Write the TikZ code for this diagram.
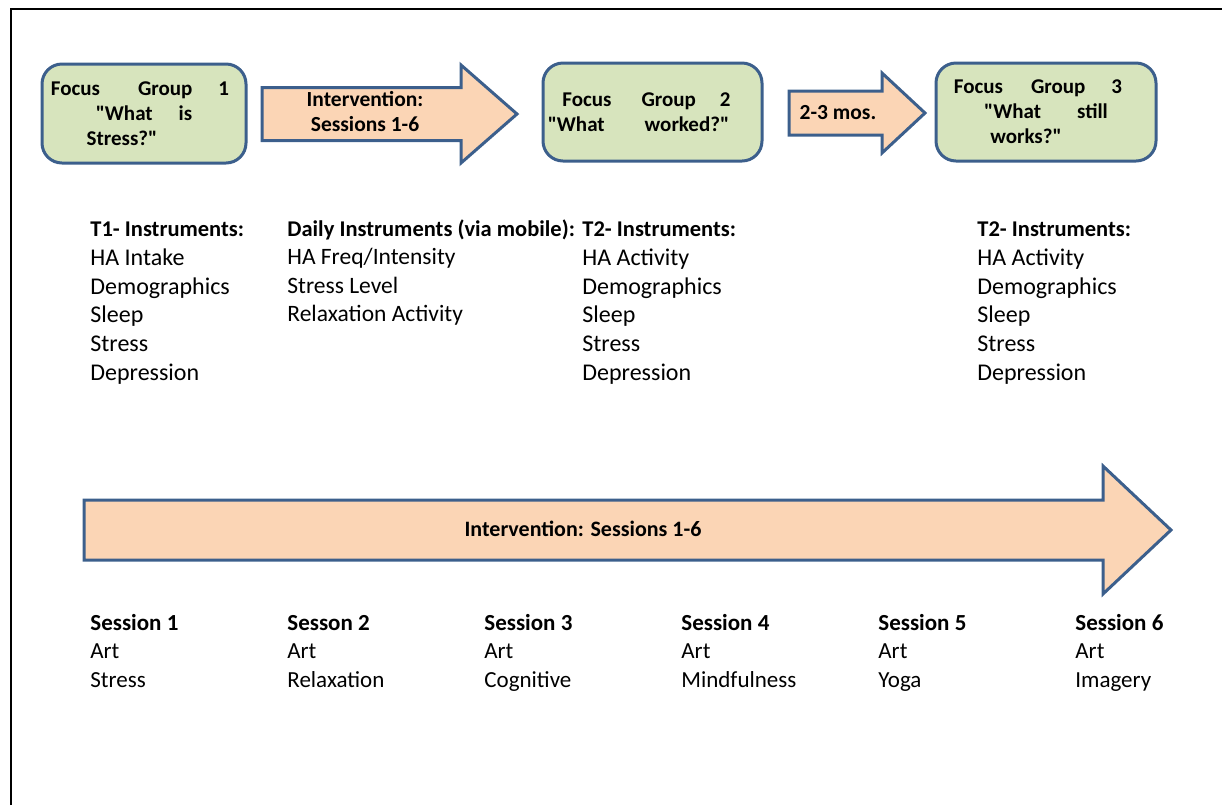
\documentclass[tikz,border=0pt]{standalone}
\usepackage{fontspec}
\setmainfont{Carlito}
\usetikzlibrary{positioning}
\definecolor{fgGreen}{HTML}{D7E4BD}
\definecolor{fgBlue}{HTML}{3C5F8C}
\definecolor{ivPeach}{HTML}{FBD5B5}
\tikzset{
    focusbox/.style={
        draw=fgBlue,line width=1.5pt,rounded corners=10pt,fill=fgGreen,
        align=center,inner sep=2pt,
        font=\fontsize{10.5}{12.5}\selectfont\bfseries
    },
    blockarrow/.style={
        draw=fgBlue,line width=1.5pt,fill=ivPeach,line join=miter
    },
    arrowlabel/.style={
        align=center,inner sep=0pt,
        font=\fontsize{10.75}{12.5}\selectfont\bfseries
    },
    instlist/.style={
        anchor=north west,align=left,inner sep=0pt,
        font=\fontsize{12}{14.4}\selectfont
    },
    sesslist/.style={
        anchor=north west,align=left,inner sep=0pt,
        font=\fontsize{11.5}{14.25}\selectfont
    }
}
\newcommand{\blockarr}[6]{%
    \draw[blockarrow] (#1,#4-#5) -- (#2,#4-#5) -- (#2,#4-#6) -- (#3,#4)
        -- (#2,#4+#6) -- (#2,#4+#5) -- (#1,#4+#5) -- cycle;}
\newcommand{\hdr}[1]{\textbf{\fontsize{11.25}{14.4}\selectfont\strut #1}}
\newcommand{\shdr}[1]{\textbf{\strut #1}}
\newcommand{\qq}{\textquotedbl}

\begin{document}
\begin{tikzpicture}[x=0.5pt,y=-0.5pt]
\useasboundingbox (0,0) rectangle (1222,805);

\draw[line width=1.25pt] (11,805) -- (11,9) -- (1222,9);

\node[focusbox,minimum width=102pt,minimum height=49.5pt] (fg1) at (144,113.5)
{Focus\hspace{19pt}Group\hspace{13pt}1\hspace*{4pt}\\
\qq What\hspace{13pt}is\hspace*{4pt}\\
Stress?\qq\hspace*{22pt}};

\node[focusbox,minimum width=109.5pt,minimum height=49pt] (fg2) at (652.5,112)
{Focus\hspace{15pt}Group\hspace{12pt}2\hspace*{6pt}\\
\qq What\hspace{20pt}worked?\qq\hspace*{14pt}};

\node[focusbox,minimum width=110pt,minimum height=49pt] (fg3) at (1046,112)
{Focus\hspace{14pt}Group\hspace{13pt}3\hspace*{8pt}\\
\qq What\hspace{18pt}still\hspace*{8pt}\\
works?\qq\hspace*{20pt}};

\blockarr{262}{461}{517}{114}{26.5}{49}
\node[arrowlabel] (iv1) at (365,112) {Intervention:\\Sessions 1-6};

\blockarr{789}{882}{925}{113}{22}{40}
\node[arrowlabel] (mos) at (838,113) {2-3 mos.};

\node[instlist] (t1) at (90,216)
{\hdr{T1- Instruments:}\\
HA Intake\\
Demographics\\
Sleep\\
Stress\\
Depression};

\node[instlist,font=\fontsize{11.75}{14.2}\selectfont] (daily) at (287,216)
{\hdr{Daily Instruments (via mobile):}\\
HA Freq/Intensity\\
Stress Level\\
Relaxation Activity};

\node[instlist] (t2) at (582,216)
{\hdr{T2- Instruments:}\\
HA Activity\\
Demographics\\
Sleep\\
Stress\\
Depression};

\node[instlist] (t3) at (977,216)
{\hdr{T2- Instruments:}\\
HA Activity\\
Demographics\\
Sleep\\
Stress\\
Depression};

\blockarr{84}{1103}{1171}{530}{30}{64}
\node[arrowlabel,font=\fontsize{11}{13}\selectfont\bfseries] (ivall) at (583,529)
{Intervention: Sessions 1-6};

\node[sesslist] (s1) at (90,610) {\shdr{Session 1}\\Art\\Stress};
\node[sesslist] (s2) at (287,610) {\shdr{Sesson 2}\\Art\\Relaxation};
\node[sesslist] (s3) at (484,610) {\shdr{Session 3}\\Art\\Cognitive};
\node[sesslist] (s4) at (681,610) {\shdr{Session 4}\\Art\\Mindfulness};
\node[sesslist] (s5) at (878,610) {\shdr{Session 5}\\Art\\Yoga};
\node[sesslist] (s6) at (1075,610) {\shdr{Session 6}\\Art\\Imagery};

\end{tikzpicture}
\end{document}
